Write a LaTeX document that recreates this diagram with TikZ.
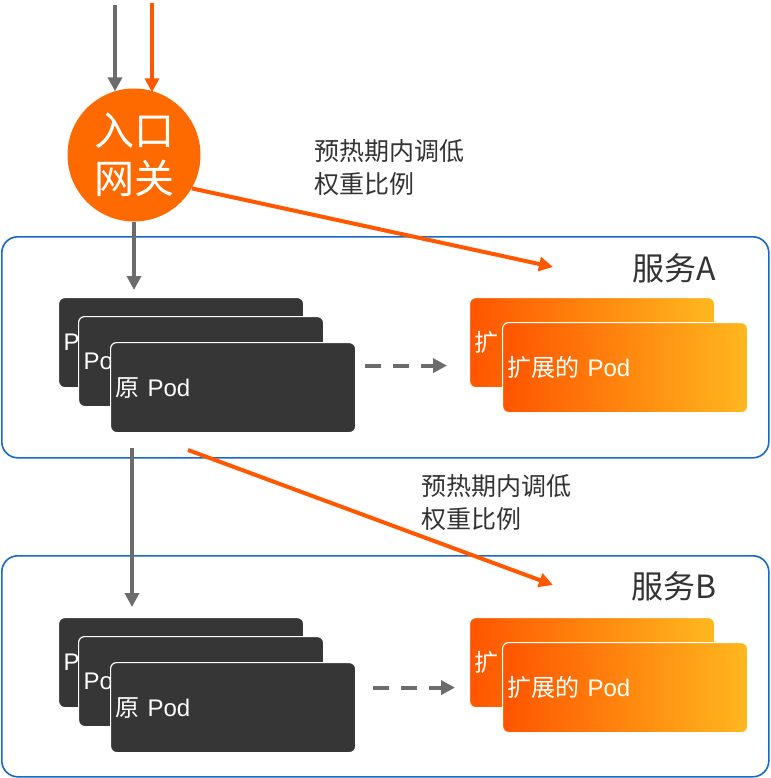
\documentclass[tikz,border=0pt]{standalone}
\usepackage{fontspec}
\setmainfont{Liberation Sans}
\newfontfamily\cjk{Noto Sans CJK SC}
\usetikzlibrary{shapes,arrows.meta,positioning}
\definecolor{gworange}{RGB}{255,106,0}
\definecolor{arrorange}{RGB}{255,88,0}
\definecolor{podgray}{RGB}{54,54,54}
\definecolor{linegray}{RGB}{108,108,108}
\definecolor{svcblue}{RGB}{22,106,196}
\definecolor{txtgray}{RGB}{51,51,51}
\definecolor{extL}{RGB}{255,85,0}
\definecolor{extR}{RGB}{255,184,30}

\begin{document}
\begin{tikzpicture}[% pixel grid, y runs downwards
		x=1pt,y=-1pt,
		every node/.style={
			align=center,	% so that "\\" breaks lines
			inner sep=0pt
		},
		every edge/.style={draw,line width=4pt},
		>={Triangle[length=14pt,width=14pt]},
		svc/.style={rectangle,rounded corners=16pt,draw=svcblue,line width=1.6pt,
			anchor=north west,minimum width=767pt,minimum height=221pt},
		pod/.style={rectangle,rounded corners=6pt,fill=podgray,draw=white,line width=1.2pt,
			anchor=north west,minimum width=245pt,minimum height=90pt,
			text width=235pt,inner sep=5pt,align=left,text=white,
			font=\fontsize{24}{28}\selectfont},
		ext/.style={pod,left color=extL,right color=extR},
		gw/.style={circle,fill=gworange,minimum size=133pt,text=white,
			font=\cjk\fontsize{40}{48}\selectfont},
		svclabel/.style={text=txtgray,font=\cjk\fontsize{32}{36}\selectfont},
		note/.style={anchor=west,align=left,text=txtgray,font=\cjk\fontsize{25}{33}\selectfont}
	]
	\useasboundingbox (0,0) rectangle (770,778);

	% two services
	\node[svc](svcA) at (1,236) {};
	\node[svc](svcB) at (1,555) {};
	\node[svclabel](lblA) at (674,268) {服务A};
	\node[svclabel](lblB) at (674,586) {服务B};

	% pods of service A
	\node[pod](podA1) at (58,297) {P};
	\node[pod](podA2) at ([shift={(20,19)}]podA1.north west) {Po};
	\node[pod](podA3) at ([shift={(32,26)}]podA2.north west) {{\cjk 原} Pod};
	\node[ext](extA1) at (469,297) {{\cjk 扩}};
	\node[ext](extA2) at ([shift={(33,25)}]extA1.north west) {{\cjk 扩展的} Pod};

	% pods of service B
	\node[pod](podB1) at (58,617) {P};
	\node[pod](podB2) at ([shift={(20,19)}]podB1.north west) {Po};
	\node[pod](podB3) at ([shift={(32,26)}]podB2.north west) {{\cjk 原} Pod};
	\node[ext](extB1) at (469,617) {{\cjk 扩}};
	\node[ext](extB2) at ([shift={(33,25)}]extB1.north west) {{\cjk 扩展的} Pod};

	% gateway
	\node[gw](gw) at (134,155) {入口\\网关};

	\node[note](noteA) at (314,168) {预热期内调低\\权重比例};
	\node[note](noteB) at (421,503) {预热期内调低\\权重比例};

	\coordinate (inG) at (115,5);
	\coordinate (inO) at (152,3);
	\coordinate (tipA) at (553,267);
	\coordinate (midG) at (132,448);
	\coordinate (midO) at (188,450);
	\coordinate (tipB) at (553,585);

	\path[->]
		(inG) edge[linegray] ([yshift=-3pt]inG |- gw.north)
		(inO) edge[arrorange] ([yshift=-4pt]inO |- gw.north)
		(gw.south) edge[linegray] ([yshift=7pt]gw.south |- podA1.north)
		(gw.-30) edge[arrorange] (tipA)
		(midG) edge[linegray] ([yshift=10pt]midG |- podB1.north)
		(midO) edge[arrorange] (tipB)
		([shift={(9pt,22pt)}]podA3.east) edge[linegray,dash pattern=on 16pt off 12pt] ([shift={(-22pt,22pt)}]extA1.west |- podA3.east)
		([shift={(17pt,20pt)}]podB3.east) edge[linegray,dash pattern=on 16pt off 12pt] ([shift={(-14pt,20pt)}]extB1.west |- podB3.east)
		;
\end{tikzpicture}
\end{document}
